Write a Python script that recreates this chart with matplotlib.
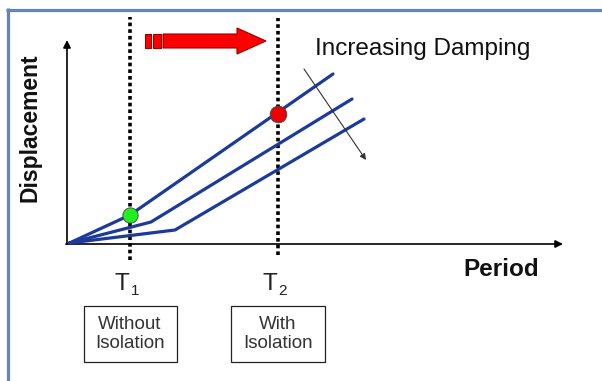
import matplotlib
matplotlib.use("Agg")
import matplotlib.pyplot as plt
from matplotlib.patches import Polygon, Rectangle
from matplotlib.lines import Line2D

plt.rcParams['font.family'] = ['Liberation Sans', 'DejaVu Sans']

# ---- data (schematic units: Period on x, Displacement on y) ----
T_subscripts = ["1", "2"]
T_periods = [1.26, 4.22]
box_texts = ["Without\nIsolation", "With\nIsolation"]

# three damping curves (start, kink, end); damping increases downward
curve_periods = [
    [0.05, 1.26, 5.32],
    [0.05, 1.68, 5.70],
    [0.05, 2.16, 5.94],
]
curve_disp = [
    [0.05, 1.45, 8.50],
    [0.05, 1.10, 7.25],
    [0.05, 0.70, 6.25],
]
point_periods = [1.26, 4.22]
point_disp = [1.45, 6.50]
point_colors = ["#22ee22", "#ee0000"]

BLUE = "#1c3a9c"

fig = plt.figure(figsize=(6.02, 3.81), dpi=100)
ax = fig.add_axes([0, 0, 1, 1])
ax.set_xlim(-1.34, 10.70)
ax.set_ylim(-6.85, 12.20)
ax.axis('off')

# outer frame (clipped on right and bottom)
fx = 7.5 / 602
fy = 1 - 9.5 / 381
frame_kw = dict(color="#5a86c8", lw=2.3, transform=fig.transFigure, solid_capstyle='butt')
fig.add_artist(Line2D([fx - 0.002, 1.01], [fy, fy], **frame_kw))
fig.add_artist(Line2D([fx, fx], [fy + 0.003, -0.01], **frame_kw))

# axes arrows
arr = dict(arrowstyle='-|>', lw=1.2, color='black', mutation_scale=11, shrinkA=0, shrinkB=0)
ax.annotate('', xy=(9.92, 0), xytext=(-0.02, 0), arrowprops=arr)
ax.annotate('', xy=(0, 10.2), xytext=(0, -0.02), arrowprops=arr)

# dotted period lines
dot_ext = [(-0.80, 11.35), (-0.55, 11.30)]
for T, (y0, y1) in zip(T_periods, dot_ext):
    ax.plot([T, T], [y0, y1], color='black', lw=2.6, linestyle=(0, (1.0, 0.85)), zorder=2)

# damping curves
for xs, ys in zip(curve_periods, curve_disp):
    ax.plot(xs, ys, color=BLUE, lw=2.3, solid_joinstyle='round', solid_capstyle='round', zorder=3)

# points
for x, y, c in zip(point_periods, point_disp, point_colors):
    ax.plot([x], [y], 'o', ms=11 if c == "#22ee22" else 12, mfc=c, mec='#444444', mew=0.6, zorder=4)

# red block arrow
red_kw = dict(closed=True, facecolor='#ff0000', edgecolor='#990000', lw=0.8, zorder=3)
ax.add_patch(Polygon([(1.56, 9.8), (1.68, 9.8), (1.68, 10.5), (1.56, 10.5)], **red_kw))
ax.add_patch(Polygon([(1.72, 9.8), (1.88, 9.8), (1.88, 10.5), (1.72, 10.5)], **red_kw))
ax.add_patch(Polygon([(1.92, 9.8), (3.40, 9.8), (3.40, 9.5), (3.98, 10.15),
                      (3.40, 10.8), (3.40, 10.5), (1.92, 10.5)], **red_kw))

# damping direction arrow
ax.annotate('', xy=(5.98, 4.2), xytext=(4.74, 8.75),
            arrowprops=dict(arrowstyle='-|>', lw=0.8, color='#333333', mutation_scale=9,
                            shrinkA=0, shrinkB=0))

ax.text(4.96, 9.75, "Increasing Damping", ha='left', va='center', fontsize=17.5, color='#111111')
ax.text(-0.74, 5.83, "Displacement", rotation=90, ha='center', va='center',
        fontsize=16.5, fontweight='bold', color='#111111')
ax.text(7.92, -1.25, "Period", ha='left', va='center', fontsize=17.5,
        fontweight='bold', color='#111111')

for T, sub in zip(T_periods, T_subscripts):
    ax.text(T - 0.02, -2.3, "T", ha='right', va='baseline', fontsize=17.5, color='#222222')
    ax.text(T + 0.01, -2.55, sub, ha='left', va='baseline', fontsize=11, color='#222222')

for T, txt in zip(T_periods, box_texts):
    ax.add_patch(Rectangle((T - 0.93, -5.9), 1.86, 2.8, fill=False, edgecolor='#222222', lw=0.9))
    ax.text(T, -4.5, txt, ha='center', va='center', fontsize=13.5, color='#333333',
            linespacing=1.15)

fig.savefig("out.png", dpi=100)
